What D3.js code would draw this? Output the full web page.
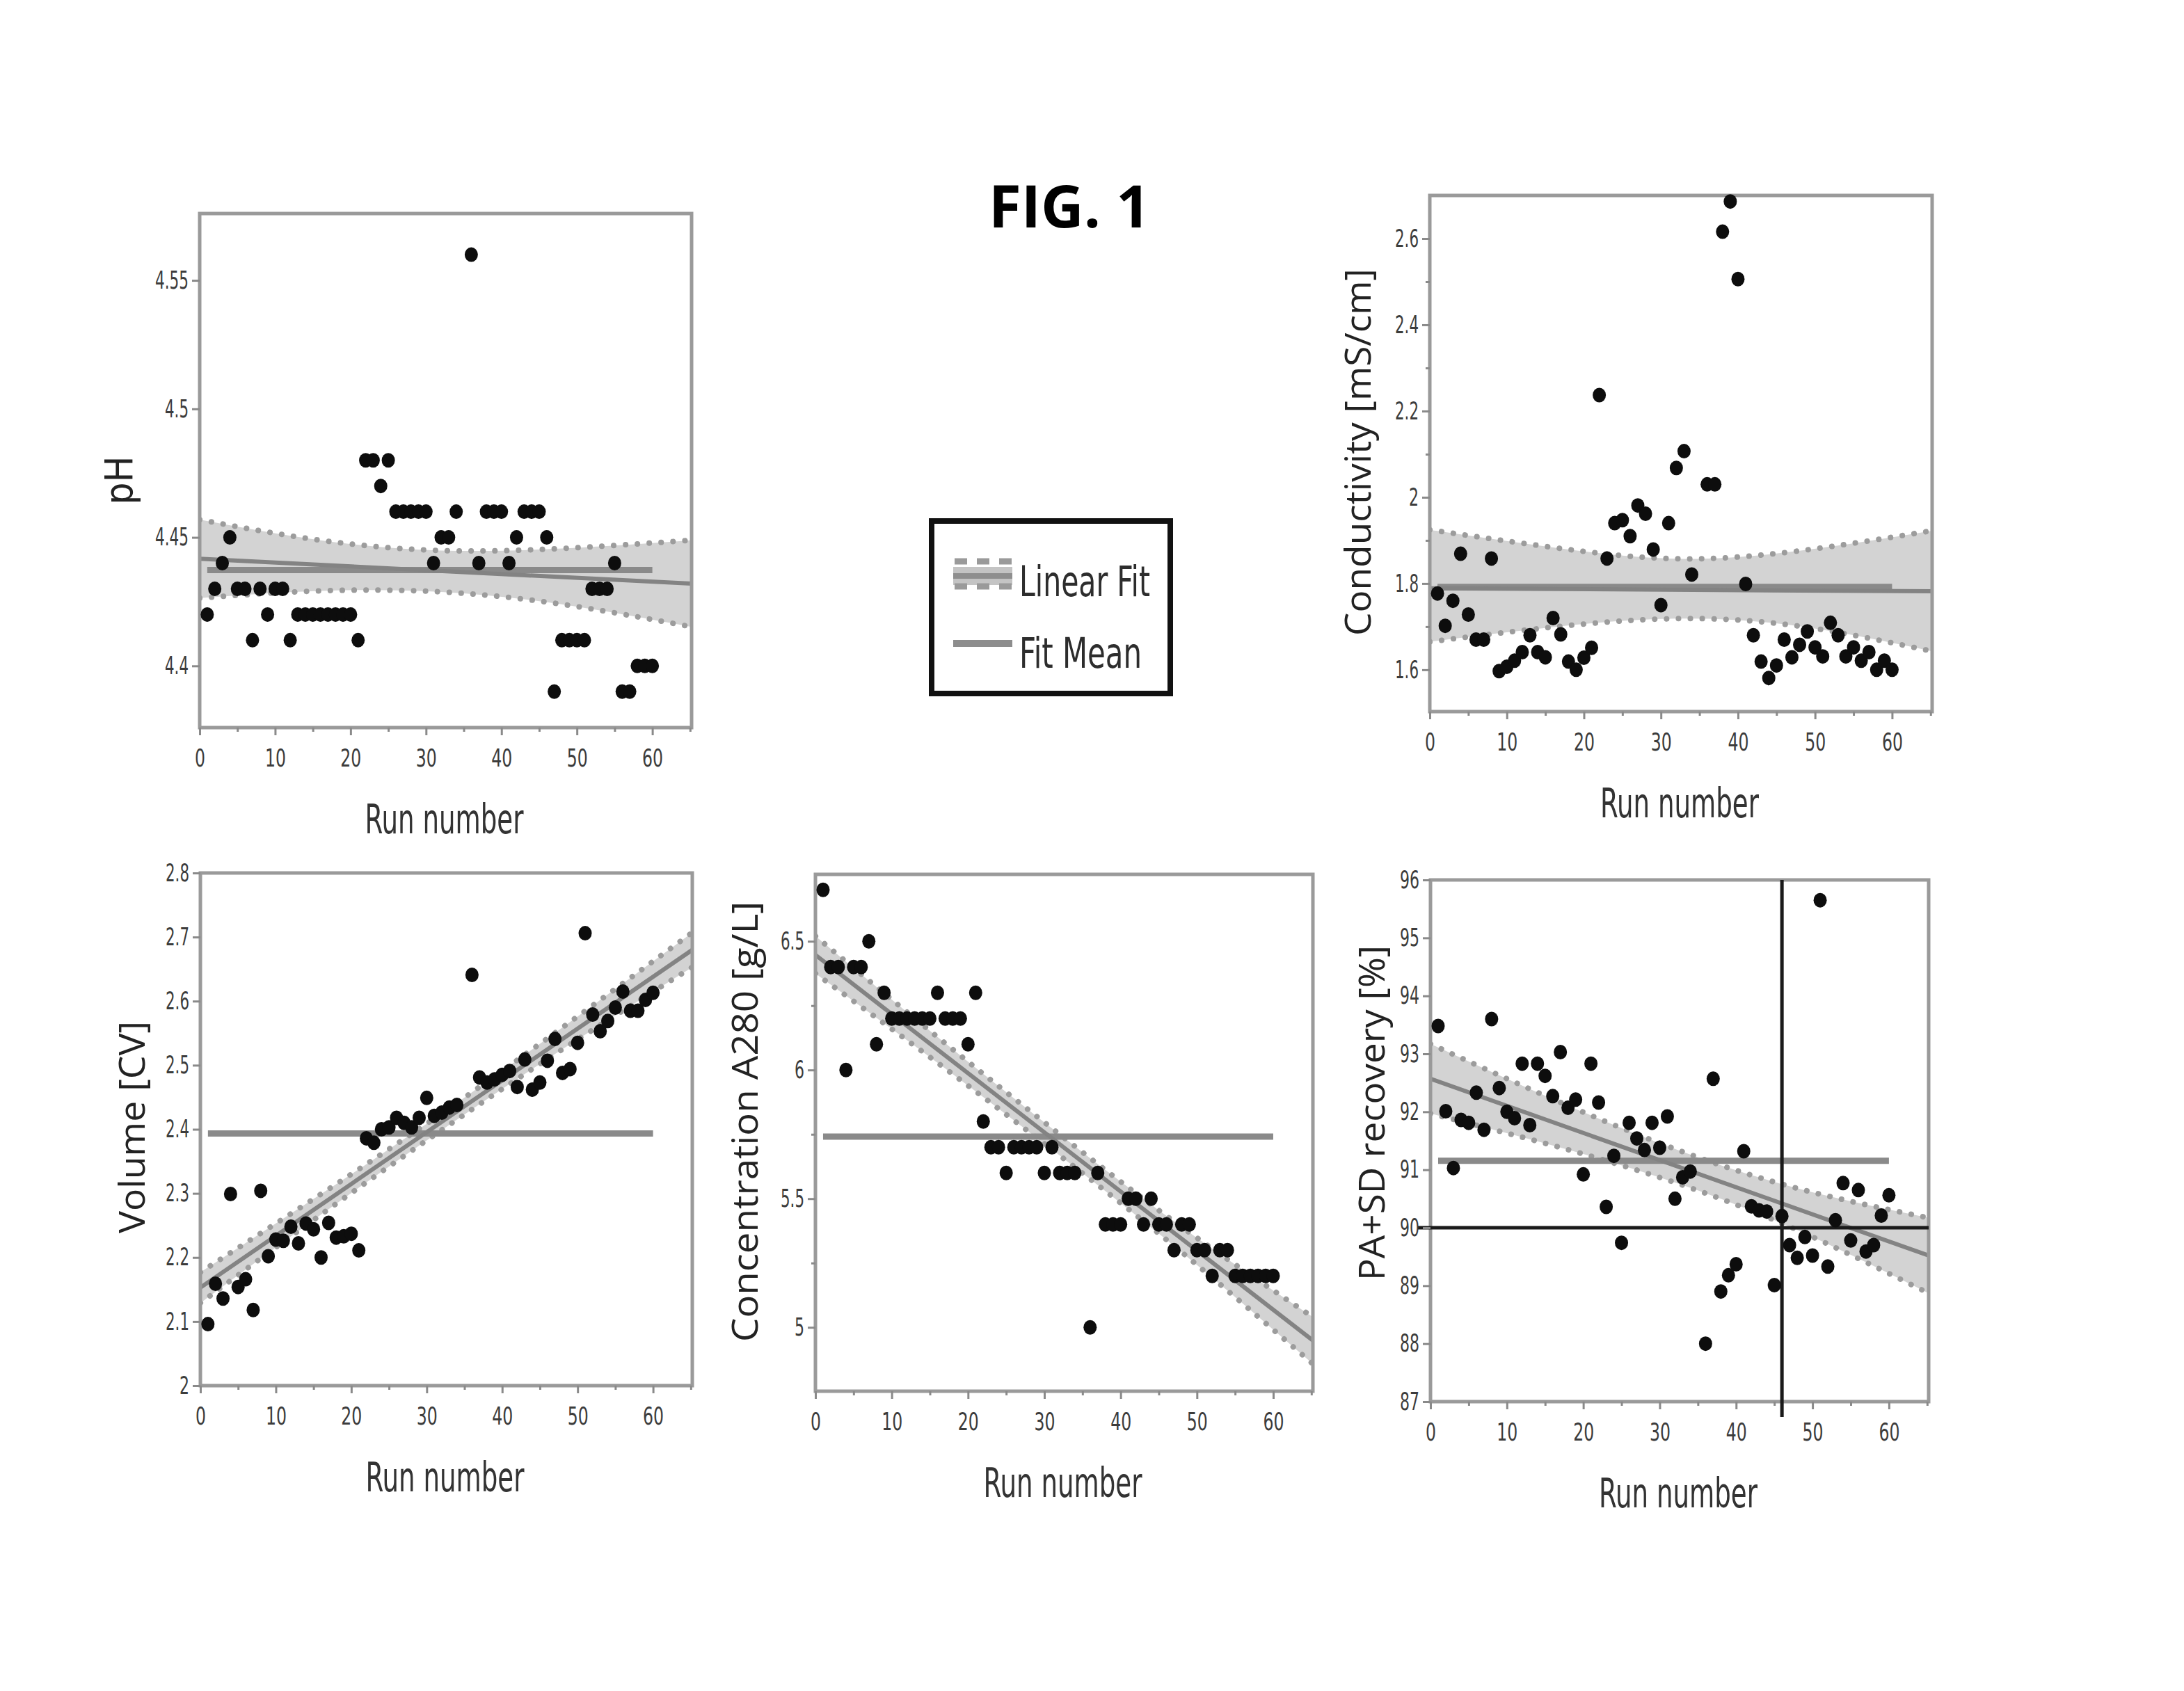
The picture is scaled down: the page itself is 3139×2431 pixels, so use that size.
<!DOCTYPE html>
<html>
<head>
<meta charset="utf-8">
<script src="https://cdn.jsdelivr.net/npm/d3@7"></script>
<style>
  body { margin: 0; background: #fff; }
  svg { display: block; background: #fff; }
  .narrow { font-family: 'Liberation Sans Narrow', 'DejaVu Sans Condensed', 'Liberation Sans', sans-serif; }
  .ylab { font-family: 'Open Sans', 'DejaVu Sans', sans-serif; }
</style>
</head>
<body>
<svg width="3139" height="2431"></svg>
<script>
// run 35 is missing from every panel
const runNumbers = [
  1, 2, 3, 4, 5, 6, 7, 8, 9, 10, 11, 12, 13, 14, 15, 16, 17, 18, 19, 20,
  21, 22, 23, 24, 25, 26, 27, 28, 29, 30, 31, 32, 33, 34,
  36, 37, 38, 39, 40, 41, 42, 43, 44, 45, 46, 47, 48, 49, 50,
  51, 52, 53, 54, 55, 56, 57, 58, 59, 60,
];

const phValues = [
  4.42, 4.43, 4.44, 4.45, 4.43, 4.43, 4.41, 4.43, 4.42, 4.43, 4.43, 4.41,
  4.42, 4.42, 4.42, 4.42, 4.42, 4.42, 4.42, 4.42, 4.41, 4.48, 4.48, 4.47,
  4.48, 4.46, 4.46, 4.46, 4.46, 4.46, 4.44, 4.45, 4.45, 4.46,
  4.56, 4.44, 4.46, 4.46, 4.46, 4.44, 4.45, 4.46, 4.46, 4.46, 4.45, 4.39,
  4.41, 4.41, 4.41, 4.41, 4.43, 4.43, 4.43, 4.44, 4.39, 4.39, 4.40, 4.40, 4.40,
];
const condValues = [
  1.777, 1.702, 1.760, 1.869, 1.728, 1.670, 1.670, 1.858, 1.597, 1.607,
  1.621, 1.641, 1.680, 1.641, 1.629, 1.720, 1.682, 1.619, 1.600, 1.628,
  1.651, 2.237, 1.858, 1.940, 1.947, 1.910, 1.981, 1.962, 1.879, 1.750,
  1.940, 2.068, 2.107, 1.821,
  2.030, 2.030, 2.616, 2.686, 2.506, 1.799, 1.680, 1.619, 1.581, 1.610,
  1.670, 1.629, 1.658, 1.689, 1.652, 1.631, 1.709, 1.680, 1.631, 1.652,
  1.621, 1.641, 1.600, 1.621, 1.600,
];
const volValues = [
  2.096, 2.159, 2.136, 2.299, 2.154, 2.166, 2.118, 2.304, 2.202, 2.228,
  2.226, 2.248, 2.222, 2.253, 2.244, 2.200, 2.254, 2.231, 2.233, 2.237,
  2.211, 2.386, 2.379, 2.400, 2.403, 2.418, 2.410, 2.403, 2.418, 2.449,
  2.421, 2.426, 2.434, 2.438,
  2.641, 2.481, 2.473, 2.478, 2.485, 2.491, 2.466, 2.509, 2.462, 2.473,
  2.507, 2.541, 2.488, 2.494, 2.535, 2.706, 2.579, 2.553, 2.569, 2.590,
  2.615, 2.585, 2.585, 2.602, 2.613,
];
const concValues = [
  6.7, 6.4, 6.4, 6.0, 6.4, 6.4, 6.5, 6.1, 6.3, 6.2, 6.2, 6.2, 6.2, 6.2, 6.2,
  6.3, 6.2, 6.2, 6.2, 6.1, 6.3, 5.8, 5.7, 5.7, 5.6, 5.7, 5.7, 5.7, 5.7, 5.6,
  5.7, 5.6, 5.6, 5.6,
  5.0, 5.6, 5.4, 5.4, 5.4, 5.5, 5.5, 5.4, 5.5, 5.4, 5.4, 5.3, 5.4, 5.4, 5.3,
  5.3, 5.2, 5.3, 5.3, 5.2, 5.2, 5.2, 5.2, 5.2, 5.2,
];
const recoveryValues = [
  93.48, 92.01, 91.03, 91.86, 91.81, 92.33, 91.69, 93.60, 92.41, 92.00,
  91.89, 92.83, 91.77, 92.83, 92.62, 92.27, 93.03, 92.07, 92.21, 90.92,
  92.83, 92.16, 90.36, 91.24, 89.74, 91.81, 91.54, 91.34, 91.81, 91.38,
  91.92, 90.50, 90.87, 90.97,
  88.00, 92.57, 88.90, 89.18, 89.37, 91.32, 90.37, 90.30, 90.28, 89.01,
  90.20, 89.70, 89.48, 89.84, 89.52, 95.65, 89.33, 90.13, 90.77, 89.78,
  90.65, 89.59, 89.70, 90.21, 90.56,
];

// linear fit end points, fit mean, confidence band
const fitRuns = [0, 65.2];
const meanRuns = [1, 60];
const bandRuns = [0, 16, 32, 48, 65.2];

const phFit = [4.4417, 4.432];
const phMean = 4.4373;
const phUpper = [4.4569, 4.4489, 4.4449, 4.4457, 4.4489];
const phLower = [4.4264, 4.4292, 4.4288, 4.424, 4.4152];

const condFit = [1.789, 1.782];
const condMean = 1.792;
const condUpper = [1.9246, 1.8838, 1.8575, 1.876, 1.9226];
const condLower = [1.665, 1.699, 1.7186, 1.701, 1.643];

const volFit = [2.153, 2.68];
const volMean = 2.3935;
const volUpper = [2.177, 2.299, 2.425, 2.559, 2.707];
const volLower = [2.129, 2.267, 2.399, 2.525, 2.653];

const concFit = [6.447, 4.949];
const concMean = 5.741;
const concUpper = [6.52, 6.128, 5.75, 5.39, 5.04];
const concLower = [6.375, 6.028, 5.668, 5.292, 4.858];

const recFit = [92.57, 89.52];
const recMean = 91.155;
const recUpper = [93.17, 92.22, 91.36, 90.68, 90.17];
const recLower = [91.97, 91.42, 90.78, 89.96, 88.87];
const recLimit = 90;
const recRunLimit = 46;

// tick labels
const runTicks = [0, 10, 20, 30, 40, 50, 60];
const runMinorTicks = [5, 15, 25, 35, 45, 55, 65];
const phTicks = [4.4, 4.45, 4.5, 4.55];
const condTicks = [1.6, 1.8, 2, 2.2, 2.4, 2.6];
const condMinor = [1.7, 1.9, 2.1, 2.3, 2.5];
const volTicks = [2, 2.1, 2.2, 2.3, 2.4, 2.5, 2.6, 2.7, 2.8];
const concTicks = [5, 5.5, 6, 6.5];
const concMinor = [5.25, 5.75, 6.25];
const recTicks = [87, 88, 89, 90, 91, 92, 93, 94, 95, 96];

const legendItems = ['Linear Fit', 'Fit Mean'];

const svg = d3.select('svg');
const bandFill = '#d3d3d3';
const dotGray = '#9c9c9c';
const lineGray = '#838383';

const panels = [
  {
    values: phValues, yDomain: [4.376, 4.576], ticks: phTicks, minor: [],
    fit: phFit, mean: phMean, upper: phUpper, lower: phLower,
    box: { x: 287, y: 307, w: 707, h: 739 },
    label: 'pH', labelDx: -117, labelDy: 14, labelLen: null, labelSize: 56, labelClass: 'narrow',
  },
  {
    values: condValues, yDomain: [1.503, 2.7], ticks: condTicks, minor: condMinor,
    fit: condFit, mean: condMean, upper: condUpper, lower: condLower,
    box: { x: 2055, y: 281, w: 722, h: 742 },
    label: 'Conductivity [mS/cm]', labelDx: -103, labelDy: -2, labelLen: 528, labelSize: 52, labelClass: 'ylab',
  },
  {
    values: volValues, yDomain: [2.0, 2.8], ticks: volTicks, minor: [],
    fit: volFit, mean: volMean, upper: volUpper, lower: volLower,
    box: { x: 288, y: 1255, w: 707, h: 737 },
    label: 'Volume [CV]', labelDx: -98, labelDy: -3, labelLen: 305, labelSize: 52, labelClass: 'ylab',
  },
  {
    values: concValues, yDomain: [4.752, 6.76], ticks: concTicks, minor: concMinor,
    fit: concFit, mean: concMean, upper: concUpper, lower: concLower,
    box: { x: 1172, y: 1257, w: 715, h: 743 },
    label: 'Concentration A280 [g/L]', labelDx: -101, labelDy: -16, labelLen: 633, labelSize: 52, labelClass: 'ylab',
  },
  {
    values: recoveryValues, yDomain: [87, 96], ticks: recTicks, minor: [],
    fit: recFit, mean: recMean, upper: recUpper, lower: recLower,
    box: { x: 2056, y: 1265, w: 716, h: 750 },
    label: 'PA+SD recovery [%]', labelDx: -84, labelDy: -40, labelLen: 482, labelSize: 52, labelClass: 'ylab',
    limits: true,
  },
];

function drawPanel(p, idx) {
  const { x: bx, y: by, w, h } = p.box;
  const g = svg.append('g').attr('transform', `translate(${bx},${by})`);

  const x = d3.scaleLinear().domain([0, 65.2]).range([0, w]);
  const y = d3.scaleLinear().domain(p.yDomain).range([h, 0]);

  const clipId = `clip${idx}`;
  g.append('clipPath').attr('id', clipId)
    .append('rect').attr('width', w).attr('height', h);

  const plot = g.append('g').attr('clip-path', `url(#${clipId})`);

  const band = bandRuns.map((r, i) => ({ run: r, lo: p.lower[i], hi: p.upper[i] }));

  plot.append('path')
    .datum(band)
    .attr('fill', bandFill)
    .attr('d', d3.area().curve(d3.curveNatural)
      .x(d => x(d.run)).y0(d => y(d.lo)).y1(d => y(d.hi)));

  ['hi', 'lo'].forEach(k => {
    plot.append('path')
      .datum(band)
      .attr('fill', 'none')
      .attr('stroke', dotGray)
      .attr('stroke-width', 8)
      .attr('stroke-linecap', 'round')
      .attr('stroke-dasharray', '0.1 17')
      .attr('d', d3.line().curve(d3.curveNatural).x(d => x(d.run)).y(d => y(d[k])));
  });

  // fit mean
  plot.append('path')
    .datum(meanRuns.map(r => ({ run: r, v: p.mean })))
    .attr('fill', 'none')
    .attr('stroke', '#8a8a8a')
    .attr('stroke-width', 9)
    .attr('d', d3.line().x(d => x(d.run)).y(d => y(d.v)));

  // linear fit
  plot.append('path')
    .datum(fitRuns.map((r, i) => ({ run: r, v: p.fit[i] })))
    .attr('fill', 'none')
    .attr('stroke', lineGray)
    .attr('stroke-width', 6)
    .attr('d', d3.line().x(d => x(d.run)).y(d => y(d.v)));

  // frame
  g.append('rect')
    .attr('width', w).attr('height', h)
    .attr('fill', 'none')
    .attr('stroke', '#9a9a9a')
    .attr('stroke-width', 5);

  if (p.limits) {
    g.append('line')
      .attr('x1', -18).attr('x2', w)
      .attr('y1', y(recLimit)).attr('y2', y(recLimit))
      .attr('stroke', '#1a1a1a').attr('stroke-width', 5);
    g.append('line')
      .attr('x1', x(recRunLimit)).attr('x2', x(recRunLimit))
      .attr('y1', 0).attr('y2', h + 22)
      .attr('stroke', '#1a1a1a').attr('stroke-width', 5);
  }

  g.append('g')
    .selectAll('ellipse')
    .data(p.values.map((v, i) => ({ run: runNumbers[i], v })))
    .join('ellipse')
    .attr('cx', d => x(d.run))
    .attr('cy', d => y(d.v))
    .attr('rx', 9.5)
    .attr('ry', 10.5)
    .attr('fill', '#0d0d0d');

  // axes
  const yAxis = g.append('g')
    .attr('class', 'narrow')
    .call(d3.axisLeft(y).tickValues(p.ticks).tickSize(11).tickPadding(5).tickFormat(d => String(d)));
  const yMinor = g.append('g')
    .call(d3.axisLeft(y).tickValues(p.minor).tickSize(6).tickFormat(''));
  const xAxis = g.append('g')
    .attr('class', 'narrow')
    .attr('transform', `translate(0,${h})`)
    .call(d3.axisBottom(x).tickValues(runTicks).tickSize(11).tickPadding(20).tickFormat(d => String(d)));
  const xMinor = g.append('g')
    .attr('transform', `translate(0,${h})`)
    .call(d3.axisBottom(x).tickValues(runMinorTicks.filter(t => t < 65.2)).tickSize(6).tickFormat(''));

  [yAxis, yMinor, xAxis, xMinor].forEach(a => {
    a.select('.domain').remove();
    a.selectAll('line').attr('stroke', '#8a8a8a').attr('stroke-width', 3);
    a.selectAll('text')
      .attr('font-size', 35)
      .attr('fill', '#3c3c3c');
  });
  // squeeze the tick labels like the narrow plotting font
  yAxis.selectAll('.tick text')
    .attr('textLength', d => String(d).replace('.', '').length * 14 + (String(d).includes('.') ? 6 : 0))
    .attr('lengthAdjust', 'spacingAndGlyphs');
  xAxis.selectAll('.tick text')
    .attr('textLength', d => String(d).length * 15)
    .attr('lengthAdjust', 'spacingAndGlyphs');

  g.append('text')
    .attr('class', 'narrow')
    .attr('x', w / 2 - 2)
    .attr('y', h + 152)
    .attr('text-anchor', 'middle')
    .attr('font-size', 58)
    .attr('fill', '#333')
    .attr('textLength', 228)
    .attr('lengthAdjust', 'spacingAndGlyphs')
    .text('Run number');

  const lab = g.append('text')
    .attr('class', p.labelClass)
    .attr('transform', `translate(${p.labelDx},${h / 2 + p.labelDy}) rotate(-90)`)
    .attr('text-anchor', 'middle')
    .attr('dy', '0.35em')
    .attr('font-size', p.labelSize)
    .attr('fill', '#222')
    .text(p.label);
  if (p.labelLen) lab.attr('textLength', p.labelLen).attr('lengthAdjust', 'spacingAndGlyphs');
}

panels.forEach(drawPanel);

// title
svg.append('text')
  .attr('x', 1537)
  .attr('y', 327)
  .attr('text-anchor', 'middle')
  .attr('font-family', "'Open Sans', 'DejaVu Sans', sans-serif")
  .attr('font-weight', 700)
  .attr('font-size', 84)
  .attr('fill', '#000')
  .attr('textLength', 232)
  .attr('lengthAdjust', 'spacingAndGlyphs')
  .text('FIG. 1');

// legend
const legend = svg.append('g').attr('transform', 'translate(1335,745)');
legend.append('rect')
  .attr('x', 4).attr('y', 4)
  .attr('width', 343).attr('height', 248)
  .attr('fill', '#fff')
  .attr('stroke', '#111')
  .attr('stroke-width', 8);

const sym = legend.append('g').attr('transform', 'translate(35,62)');
sym.append('rect').attr('x', 0).attr('y', 8).attr('width', 85).attr('height', 26).attr('fill', '#c4c4c4');
sym.append('line').attr('x1', 0).attr('x2', 85).attr('y1', 21).attr('y2', 21)
  .attr('stroke', '#8f8f8f').attr('stroke-width', 8);
[0, 36].forEach(yy => {
  sym.append('line').attr('x1', 2).attr('x2', 85).attr('y1', yy).attr('y2', yy)
    .attr('stroke', '#9a9a9a').attr('stroke-width', 9)
    .attr('stroke-dasharray', '18 14');
});
legend.append('line')
  .attr('x1', 35).attr('x2', 120).attr('y1', 180).attr('y2', 180)
  .attr('stroke', '#8d8d8d').attr('stroke-width', 10);

legend.selectAll('text.item')
  .data(legendItems)
  .join('text')
  .attr('class', 'item narrow')
  .attr('x', 130)
  .attr('y', (d, i) => 112 + i * 103)
  .attr('font-size', 60)
  .attr('fill', '#2d2d2d')
  .attr('textLength', (d, i) => (i === 0 ? 188 : 176))
  .attr('lengthAdjust', 'spacingAndGlyphs')
  .text(d => d);
</script>
</body>
</html>
